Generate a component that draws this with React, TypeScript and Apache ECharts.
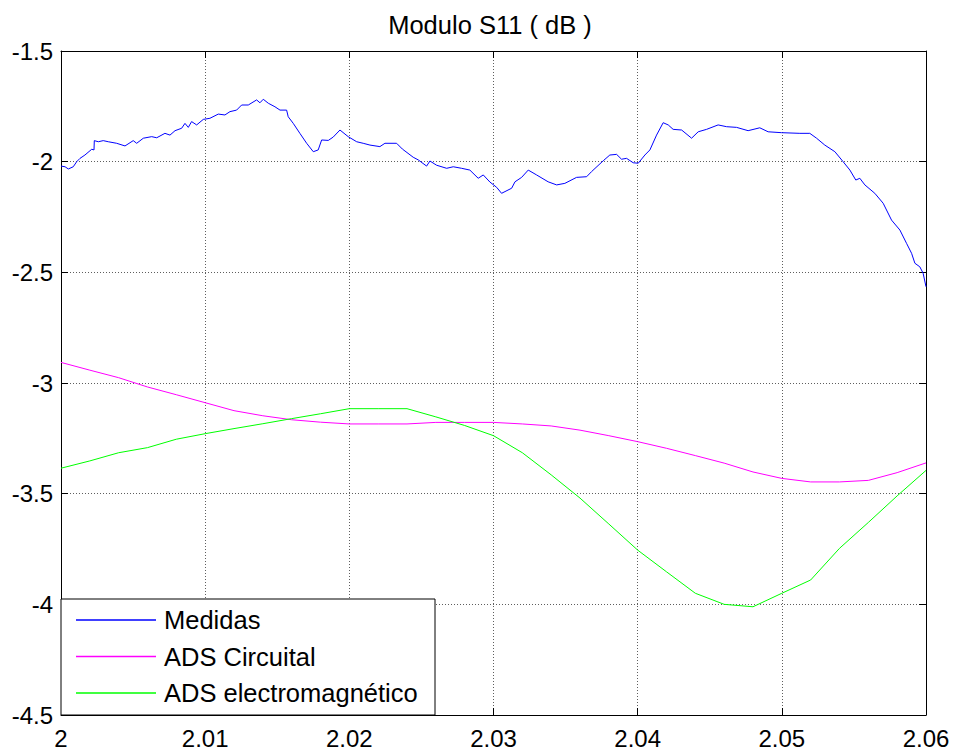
import React, { useEffect, useRef } from "react";
import * as echarts from "echarts";

// ---------- DATA ----------
const medidasFreq = [
  2.0, 2.00028, 2.00051, 2.00085, 2.00109, 2.00132, 2.00166, 2.00213, 2.00229, 2.00231,
  2.00259, 2.00293, 2.00328, 2.00386, 2.00444, 2.00501, 2.00525, 2.00571, 2.00629, 2.00664,
  2.00721, 2.00756, 2.00791, 2.00837, 2.0086, 2.00883, 2.00906, 2.00941, 2.00987, 2.01033,
  2.01091, 2.01137, 2.01172, 2.01218, 2.01253, 2.01299, 2.01357, 2.0138, 2.01403, 2.01438,
  2.01484, 2.01519, 2.01565, 2.01576, 2.01611, 2.01657, 2.01704, 2.0175, 2.01784, 2.01808,
  2.01854, 2.01888, 2.01935, 2.01992, 2.02051, 2.02096, 2.02143, 2.02212, 2.02247, 2.02328,
  2.02368, 2.02443, 2.02478, 2.02536, 2.02559, 2.02605, 2.02675, 2.02721, 2.02779, 2.02836,
  2.02894, 2.02929, 2.02975, 2.03022, 2.03056, 2.03126, 2.03149, 2.03195, 2.03241, 2.03299,
  2.03379, 2.03438, 2.03495, 2.03576, 2.03646, 2.0368, 2.03761, 2.03807, 2.03854, 2.03888,
  2.03923, 2.03969, 2.04004, 2.0405, 2.04085, 2.04131, 2.04177, 2.04212, 2.04246, 2.04305,
  2.04374, 2.0442, 2.04478, 2.04558, 2.04617, 2.04686, 2.04766, 2.04847, 2.04905, 2.04998,
  2.05125, 2.05194, 2.05241, 2.05298, 2.05368, 2.05425, 2.05472, 2.05513, 2.05541, 2.05576,
  2.05645, 2.05703, 2.05761, 2.05819, 2.05865, 2.059, 2.05923, 2.05957, 2.0598, 2.06,
];
const medidasDb = [
  -2.02, -2.023, -2.033, -2.023, -2.0, -1.985, -1.97, -1.944, -1.947, -1.905,
  -1.91, -1.905, -1.91, -1.917, -1.929, -1.905, -1.917, -1.894, -1.887, -1.892,
  -1.872, -1.88, -1.86, -1.849, -1.827, -1.845, -1.819, -1.834, -1.809, -1.804,
  -1.785, -1.789, -1.774, -1.767, -1.744, -1.744, -1.721, -1.734, -1.718, -1.736,
  -1.752, -1.767, -1.767, -1.797, -1.827, -1.872, -1.917, -1.955, -1.947, -1.902,
  -1.904, -1.889, -1.857, -1.887, -1.91, -1.917, -1.925, -1.932, -1.917, -1.917,
  -1.943, -1.98, -1.992, -2.02, -1.997, -2.016, -2.03, -2.023, -2.03, -2.038,
  -2.075, -2.06, -2.092, -2.116, -2.143, -2.12, -2.091, -2.071, -2.038, -2.06,
  -2.091, -2.105, -2.098, -2.071, -2.068, -2.045, -1.996, -1.97, -1.967, -1.989,
  -1.985, -2.005, -2.007, -1.97, -1.947, -1.88, -1.824, -1.834, -1.854, -1.857,
  -1.894, -1.865, -1.854, -1.834, -1.842, -1.845, -1.86, -1.847, -1.865, -1.869,
  -1.872, -1.872, -1.894, -1.925, -1.955, -2.0, -2.038, -2.083, -2.075, -2.105,
  -2.143, -2.188, -2.264, -2.309, -2.369, -2.414, -2.459, -2.475, -2.504, -2.565,
];
const adsFreq = [
  2.0, 2.002, 2.004, 2.006, 2.008, 2.01, 2.012, 2.014, 2.016, 2.018,
  2.02, 2.022, 2.024, 2.026, 2.028, 2.03, 2.032, 2.034, 2.036, 2.038,
  2.04, 2.042, 2.044, 2.046, 2.048, 2.05, 2.052, 2.054, 2.056, 2.058, 2.06,
];
const circuitalDb = [
  -2.907, -2.942, -2.976, -3.018, -3.053, -3.089, -3.125, -3.148, -3.166, -3.177,
  -3.185, -3.185, -3.185, -3.178, -3.178, -3.178, -3.185, -3.194, -3.213, -3.238,
  -3.265, -3.295, -3.328, -3.362, -3.402, -3.431, -3.447, -3.447, -3.44, -3.405, -3.361,
];
const emDb = [
  -3.385, -3.352, -3.315, -3.292, -3.254, -3.229, -3.206, -3.184, -3.161, -3.139,
  -3.116, -3.116, -3.116, -3.153, -3.192, -3.238, -3.315, -3.415, -3.52, -3.637,
  -3.755, -3.853, -3.95, -4.0, -4.011, -3.95, -3.89, -3.747, -3.63, -3.51, -3.395,
];
const seriesNames = ["Medidas", "ADS Circuital", "ADS electromagnético"];
const titleText = "Modulo S11 ( dB )";

const FONT = "'Liberation Sans', Arial, Helvetica, sans-serif";

export default function App() {
  const ref = useRef<HTMLDivElement>(null);
  useEffect(() => {
    if (!ref.current) return;
    const chart = echarts.init(ref.current, null, { renderer: "svg" });
    const zip = (xs: number[], ys: number[]) => xs.map((x, i) => [x, ys[i]]);
    const axisLine = { show: true, lineStyle: { color: "#000", width: 1 } };
    const tick = { show: true, inside: true, length: 7, lineStyle: { color: "#000", width: 1 } };
    const grid = { show: true, lineStyle: { color: "#5e5e5e", width: 1, type: [1, 2] as any } };
    const label = { color: "#000", fontSize: 24, fontFamily: FONT };
    chart.setOption({
      animation: false,
      backgroundColor: "#fff",
      grid: { left: 61, right: 34, top: 51, bottom: 36, containLabel: false },
      graphic: [
        {
          type: "text",
          x: 490,
          y: 25,
          z: 10,
          style: {
            text: titleText,
            fill: "#000",
            font: `25.5px ${FONT}`,
            textAlign: "center",
            textVerticalAlign: "middle",
          },
        },
        {
          type: "rect",
          z: 5,
          shape: { x: 61, y: 599, width: 374, height: 116 },
          style: { fill: "#fff", stroke: "#000", lineWidth: 1 },
        },
      ],
      legend: {
        data: seriesNames,
        orient: "vertical",
        left: 61,
        top: 599,
        z: 6,
        padding: [8, 10, 8, 15],
        itemGap: 10.5,
        itemWidth: 80,
        itemHeight: 1.5,
        icon: "rect",
        textStyle: { color: "#000", fontSize: 25.5, fontFamily: FONT, lineHeight: 26, padding: [0, 0, 0, 3] },
      },
      xAxis: [
        {
          type: "value",
          min: 2,
          max: 2.06,
          interval: 0.01,
          position: "bottom",
          axisLine,
          axisTick: tick,
          splitLine: grid,
          axisLabel: {
            ...label,
            margin: 11,
            formatter: (v: number) => String(parseFloat(v.toFixed(2))),
          },
        },
        {
          type: "value",
          min: 2,
          max: 2.06,
          interval: 0.01,
          position: "top",
          axisLine,
          axisTick: tick,
          splitLine: { show: false },
          axisLabel: { show: false },
        },
      ],
      yAxis: [
        {
          type: "value",
          min: -4.5,
          max: -1.5,
          interval: 0.5,
          position: "left",
          axisLine,
          axisTick: tick,
          splitLine: grid,
          axisLabel: { ...label, margin: 8 },
        },
        {
          type: "value",
          min: -4.5,
          max: -1.5,
          interval: 0.5,
          position: "right",
          axisLine,
          axisTick: tick,
          splitLine: { show: false },
          axisLabel: { show: false },
        },
      ],
      series: [
        {
          name: seriesNames[0],
          type: "line",
          data: zip(medidasFreq, medidasDb),
          showSymbol: false,
          symbol: "none",
          lineStyle: { color: "#0000ff", width: 1 },
          itemStyle: { color: "#0000ff" },
        },
        {
          name: seriesNames[1],
          type: "line",
          data: zip(adsFreq, circuitalDb),
          showSymbol: false,
          symbol: "none",
          lineStyle: { color: "#ff00ff", width: 1 },
          itemStyle: { color: "#ff00ff" },
        },
        {
          name: seriesNames[2],
          type: "line",
          data: zip(adsFreq, emDb),
          showSymbol: false,
          symbol: "none",
          lineStyle: { color: "#00ff00", width: 1 },
          itemStyle: { color: "#00ff00" },
        },
      ],
    });
    return () => chart.dispose();
  }, []);
  return (
    <div
      ref={ref}
      style={{ position: "fixed", left: 0, top: 0, width: 960, height: 751, background: "#fff" }}
    />
  );
}
